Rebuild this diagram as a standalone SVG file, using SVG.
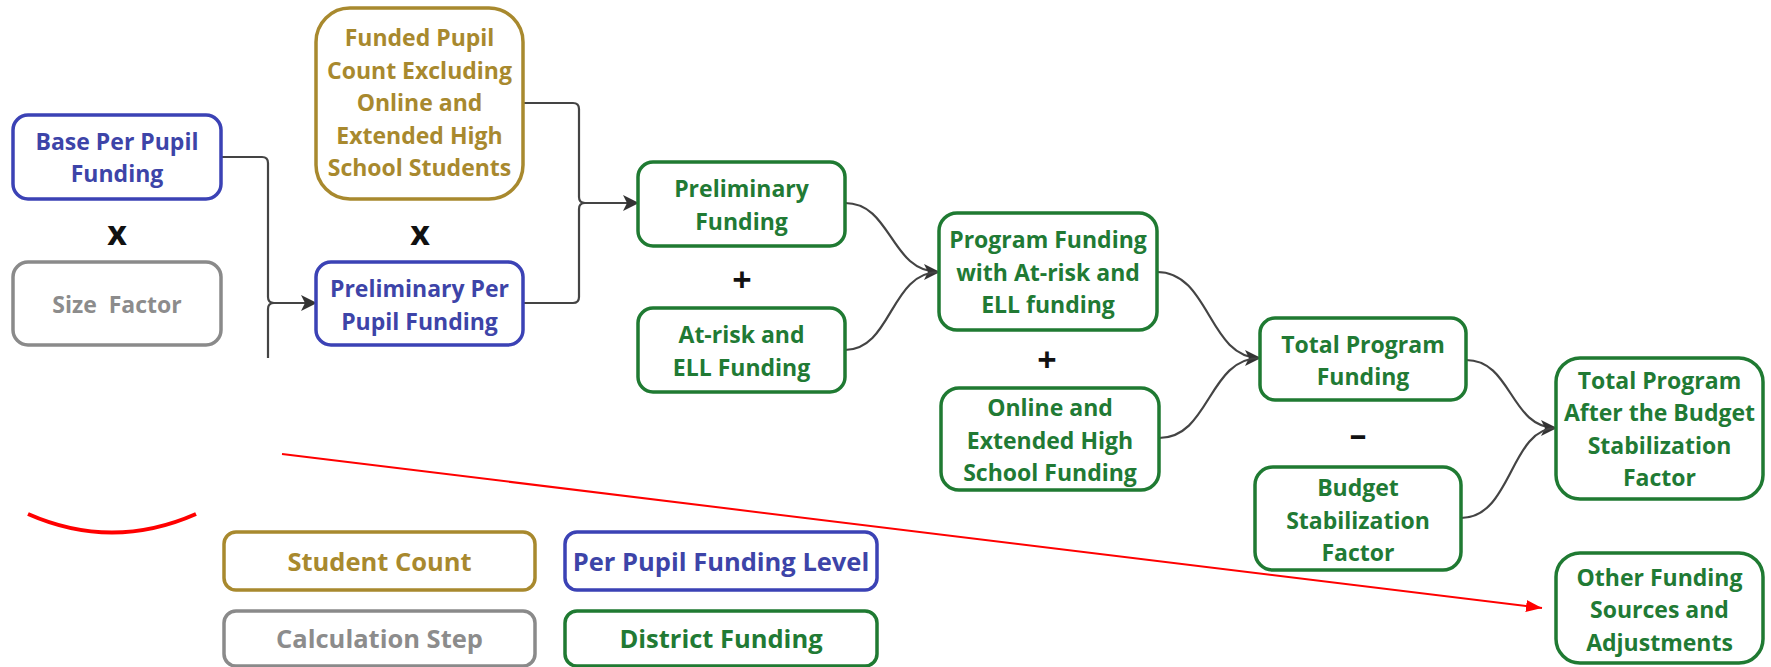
<svg xmlns="http://www.w3.org/2000/svg" width="1771" height="667" viewBox="0 0 1771 667">
<style>
text{font-family:"Open Sans","Liberation Sans",sans-serif;font-weight:700;text-anchor:middle}
.n{font-size:23px}
.lg{font-size:25.5px}
.op{font-size:34px;fill:#111}
.box{fill:#fff;stroke-width:3.5}
.blue{stroke:#3b42b5}.tblue{fill:#3d44a8}
.gold{stroke:#a8892e}.tgold{fill:#a8892e}
.green{stroke:#1f7a32}.tgreen{fill:#217a34}
.gray{stroke:#8a8a8a}.tgray{fill:#8c8c8c}
.c{fill:none;stroke:#444;stroke-width:2.2}
</style>
<defs>
<marker id="ah" markerUnits="userSpaceOnUse" markerWidth="18" markerHeight="18" refX="15" refY="8" orient="auto">
<path d="M0,0 L16,8 L0,16 L4,8 z" fill="#333"/>
</marker>
<marker id="rah" markerUnits="userSpaceOnUse" markerWidth="18" markerHeight="14" refX="16" refY="6" orient="auto">
<path d="M0,0 L16,6 L0,12 z" fill="#f00"/>
</marker>
</defs>
<rect width="1771" height="667" fill="#fff"/>
<g id="connectors">
<path class="c" d="M221,157 H262 Q268,157 268,163 V297 Q268,303 274,303 H316" marker-end="url(#ah)"/>
<path class="c" d="M268,358 V309 Q268,303 274,303"/>
<path class="c" d="M523,103 H573 Q579,103 579,109 V197 Q579,203 585,203 H638" marker-end="url(#ah)"/>
<path class="c" d="M523,303 H573 Q579,303 579,297 V209 Q579,203 585,203"/>
<path class="c" d="M845,203 C892,203 890,272 939,272" marker-end="url(#ah)"/>
<path class="c" d="M845,350 C892,350 890,272 939,272"/>
<path class="c" d="M1157,272 C1210,272 1208,358 1260,358" marker-end="url(#ah)"/>
<path class="c" d="M1159,438 C1210,438 1208,358 1260,358"/>
<path class="c" d="M1466,360 C1512,360 1510,428 1556,428" marker-end="url(#ah)"/>
<path class="c" d="M1461,518 C1512,518 1510,428 1556,428"/>
<path d="M282,454 L1542,608" stroke="#f00" stroke-width="2" fill="none" marker-end="url(#rah)"/>
<path d="M28,514 Q112,551 196,514" stroke="#f00" stroke-width="4" fill="none"/>
</g>
<g id="base">
<rect class="box blue" x="13" y="115" width="208" height="84" rx="15"/>
<text class="n tblue" x="117" y="150">Base Per Pupil</text>
<text class="n tblue" x="117" y="182">Funding</text>
</g>
<text class="op" x="117" y="245">x</text>
<g id="size">
<rect class="box gray" x="13" y="262" width="208" height="83" rx="15"/>
<text class="n tgray" x="117" y="313" xml:space="preserve">Size  Factor</text>
</g>
<g id="funded">
<rect class="box gold" x="316" y="8" width="207" height="191" rx="34"/>
<text class="n tgold" x="419.5" y="46">Funded Pupil</text>
<text class="n tgold" x="419.5" y="78.5">Count Excluding</text>
<text class="n tgold" x="419.5" y="111">Online and</text>
<text class="n tgold" x="419.5" y="143.5">Extended High</text>
<text class="n tgold" x="419.5" y="176">School Students</text>
</g>
<text class="op" x="420" y="245">x</text>
<g id="prelimPerPupil">
<rect class="box blue" x="316" y="262" width="207" height="83" rx="15"/>
<text class="n tblue" x="419.5" y="297">Preliminary Per</text>
<text class="n tblue" x="419.5" y="330">Pupil Funding</text>
</g>
<g id="prelimFunding">
<rect class="box green" x="638" y="162" width="207" height="84" rx="15"/>
<text class="n tgreen" x="741.5" y="197">Preliminary</text>
<text class="n tgreen" x="741.5" y="230">Funding</text>
</g>
<text class="op" x="742" y="292">+</text>
<g id="atRisk">
<rect class="box green" x="638" y="308" width="207" height="84" rx="15"/>
<text class="n tgreen" x="741.5" y="343">At-risk and</text>
<text class="n tgreen" x="741.5" y="376">ELL Funding</text>
</g>
<g id="program">
<rect class="box green" x="939" y="213" width="218" height="117" rx="18"/>
<text class="n tgreen" x="1048" y="248">Program Funding</text>
<text class="n tgreen" x="1048" y="280.5">with At-risk and</text>
<text class="n tgreen" x="1048" y="313">ELL funding</text>
</g>
<text class="op" x="1047" y="372">+</text>
<g id="online">
<rect class="box green" x="941" y="388" width="218" height="102" rx="18"/>
<text class="n tgreen" x="1050" y="416">Online and</text>
<text class="n tgreen" x="1050" y="448.5">Extended High</text>
<text class="n tgreen" x="1050" y="481">School Funding</text>
</g>
<g id="totalProgram">
<rect class="box green" x="1260" y="318" width="206" height="82" rx="15"/>
<text class="n tgreen" x="1363" y="353">Total Program</text>
<text class="n tgreen" x="1363" y="385">Funding</text>
</g>
<text class="op" x="1358" y="446">–</text>
<g id="budget">
<rect class="box green" x="1255" y="467" width="206" height="103" rx="18"/>
<text class="n tgreen" x="1358" y="496">Budget</text>
<text class="n tgreen" x="1358" y="528.5">Stabilization</text>
<text class="n tgreen" x="1358" y="561">Factor</text>
</g>
<g id="after">
<rect class="box green" x="1556" y="358" width="207" height="141" rx="24"/>
<text class="n tgreen" x="1659.5" y="389">Total Program</text>
<text class="n tgreen" x="1659.5" y="421">After the Budget</text>
<text class="n tgreen" x="1659.5" y="454">Stabilization</text>
<text class="n tgreen" x="1659.5" y="486">Factor</text>
</g>
<g id="other">
<rect class="box green" x="1556" y="553" width="207" height="110" rx="24"/>
<text class="n tgreen" x="1659.5" y="586">Other Funding</text>
<text class="n tgreen" x="1659.5" y="618">Sources and</text>
<text class="n tgreen" x="1659.5" y="651">Adjustments</text>
</g>
<g id="legend-student">
<rect class="box gold" x="224" y="532" width="311" height="58" rx="12"/>
<text class="lg tgold" x="379.5" y="571">Student Count</text>
</g>
<g id="legend-perpupil">
<rect class="box blue" x="565" y="532" width="312" height="58" rx="12"/>
<text class="lg tblue" x="721" y="571">Per Pupil Funding Level</text>
</g>
<g id="legend-calc">
<rect class="box gray" x="224" y="611" width="311" height="55" rx="12"/>
<text class="lg tgray" x="379.5" y="648">Calculation Step</text>
</g>
<g id="legend-district">
<rect class="box green" x="565" y="611" width="312" height="55" rx="12"/>
<text class="lg tgreen" x="721" y="648">District Funding</text>
</g>
</svg>
